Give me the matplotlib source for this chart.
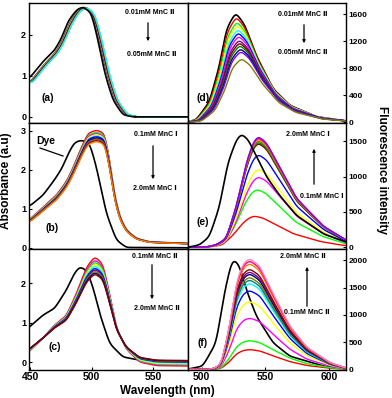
import numpy as np
import matplotlib
matplotlib.use('Agg')
import matplotlib.pyplot as plt

plt.rcParams['font.family'] = ['Liberation Sans', 'DejaVu Sans']
plt.rcParams['font.weight'] = 'bold'

# ---------------- Data ----------------
# Panel (a): absorbance, 0.01 -> 0.05 mM MnC II
wl_a_dye = [449.6, 460.4, 469.9, 475.4, 480.7, 487.6, 492.9, 499.8, 505.1, 510.6, 517.3, 525.4, 533.6, 578]
abs_a_dye = [0.95, 1.35, 1.63, 1.92, 2.33, 2.61, 2.69, 2.53, 1.88, 1.07, 0.41, 0.05, 0.0, 0.0]
wl_a_ti = [449.6, 460.4, 469.9, 475.4, 480.7, 487.6, 494.0, 500.5, 506.0, 511.8, 518.5, 527.0, 535.0, 578]
abs_a_ti = [0.84, 1.25, 1.55, 1.83, 2.22, 2.58, 2.69, 2.50, 1.88, 1.07, 0.41, 0.05, 0.0, 0.0]
peak_a = [2.70, 2.70, 2.69, 2.69, 2.69, 2.69, 2.68, 2.68, 2.68, 2.68, 2.68, 2.68]
shift_a = [0.2, 0.4, 0.6, 0.8, 1.0, 1.2, 1.4, 1.6, 1.8, 2.0, 2.2, 2.4]
colors_a = ['red', 'lime', 'blue', 'magenta', 'yellow', '#808000', '#000080',
            '#800080', '#800000', '#008000', '#FF8000', 'cyan']

# Panel (b): absorbance, 0.1 -> 2.0 mM MnC I
wl_b_dye = [449.6, 460.4, 469.9, 476.0, 481.5, 486.0, 491.6, 498.4, 503.8, 512.0, 520.1, 528.2, 578]
abs_b_dye = [1.07, 1.35, 1.75, 2.05, 2.45, 2.70, 2.76, 2.68, 2.08, 0.88, 0.20, 0.01, 0.0]
wl_b_ti = [449.6, 460.4, 471.3, 479.4, 484.8, 491.6, 497.0, 503.8, 510.6, 514.6, 518.7, 522.8, 528.2, 536.3, 547.0, 577.0]
abs_b_ti = [0.71, 1.01, 1.31, 1.65, 1.99, 2.50, 2.85, 2.93, 2.85, 2.20, 1.31, 0.79, 0.45, 0.24, 0.15, 0.11]
peak_b = [3.02, 2.97, 2.94, 2.91, 2.88, 2.86, 2.83, 2.81, 2.79, 2.76, 2.73]
colors_b = ['red', 'lime', 'magenta', 'yellow', 'cyan', 'blue', '#000080',
            '#800080', '#808000', '#800000', '#FF8000']

# Panel (c): absorbance, 0.1 -> 2.0 mM MnC II
wl_c_dye = [448.0, 460.4, 469.9, 479.4, 486.0, 490.2, 495.7, 501.0, 506.5, 514.6, 525.4, 539.0, 577.0]
abs_c_dye = [0.85, 1.19, 1.36, 1.82, 2.25, 2.41, 2.33, 1.91, 1.23, 0.47, 0.13, 0.05, 0.01]
wl_c_ti = [448.0, 460.4, 469.9, 479.4, 487.5, 495.7, 502.4, 509.2, 514.6, 520.0, 528.0, 539.0, 552.6, 577.0]
abs_c_ti = [0.30, 0.64, 0.94, 1.15, 1.65, 2.25, 2.50, 2.33, 1.65, 0.89, 0.39, 0.09, 0.01, 0.0]
peak_c = [2.67, 2.60, 2.55, 2.50, 2.45, 2.40, 2.36, 2.32, 2.28, 2.24]
base_c = [-0.10, -0.08, -0.06, -0.04, -0.02, 0.0, 0.01, 0.02, 0.03, 0.04]
colors_c = ['red', 'magenta', 'lime', 'yellow', 'cyan', 'blue', '#800080',
            '#808000', '#000080', '#800000']

# Panel (d): fluorescence, 0.01 -> 0.05 mM MnC II
wl_d_dye = [485.0, 495.7, 506.1, 514.0, 519.3, 526.6, 533.7, 542.9, 556.0, 569.0, 590.0, 613.0]
fl_d_dye = [0, 34, 303, 840, 1377, 1630, 1450, 986, 498, 253, 83, 20]
peak_d = [1570, 1500, 1450, 1390, 1340, 1290, 1230, 1190, 1150, 1100, 1060, 950]
shift_d = [0.5, 0.9, 1.3, 1.7, 2.0, 2.3, 2.7, 3.0, 3.3, 3.7, 4.0, 4.5]
colors_d = ['red', 'lime', 'yellow', 'cyan', 'blue', 'magenta', '#800080',
            '#800000', '#008000', '#000080', '#8000FF', '#808000']

# Panel (e): fluorescence, 0.1 -> 2.0 mM MnC I
wl_e_dye = [489.0, 498.3, 506.1, 514.0, 520.5, 527.2, 531.1, 536.3, 542.9, 550.8, 561.3, 574.4, 595.4, 613.8]
fl_e_dye = [0, 33, 150, 575, 1190, 1520, 1605, 1530, 1290, 1000, 730, 450, 190, 70]
wl_e_ti = [495.0, 505.0, 512.0, 519.3, 527.2, 535.0, 540.2, 544.2, 550.8, 561.3, 574.4, 595.4, 613.8]
fl_e_ti = [0.0, 0.005, 0.025, 0.08, 0.37, 0.76, 0.94, 1.0, 0.94, 0.72, 0.44, 0.19, 0.06]
peak_e = [443, 821, 1000, 1109, 1317, 1480, 1500, 1520, 1545, 1560, 1575]
shift_e = [-3.0, -1.0, 0, 0, 0, 0, 0, 0, 0, 0, 0]
colors_e = ['red', 'lime', 'magenta', 'yellow', 'blue', '#800000', '#008000',
            '#808000', '#FF8000', '#FF0080', '#8000FF']

# Panel (f): fluorescence, 0.1 -> 2.0 mM MnC II
wl_f_dye = [488.0, 500.9, 511.4, 517.9, 523.2, 525.8, 529.8, 535.0, 542.9, 556.0, 569.1, 595.4, 613.8]
fl_f_dye = [0, 61, 489, 1405, 1954, 2015, 1892, 1465, 976, 489, 244, 61, 12]
wl_f_ti = [495.0, 505.0, 510.0, 515.4, 521.9, 527.2, 532.4, 537.6, 545.5, 556.0, 569.1, 582.3, 600.7, 613.8]
fl_f_ti = [0.0, 0.0, 0.01, 0.05, 0.39, 0.78, 0.95, 1.0, 0.93, 0.68, 0.39, 0.20, 0.06, 0.01]
peak_f = [366, 531, 946, 1251, 1453, 1587, 1650, 1700, 1760, 1800, 1850, 1950, 2000, 2040]
colors_f = ['red', 'lime', 'magenta', 'yellow', 'blue', 'cyan', '#008080',
            '#808000', '#000080', '#800080', '#800000', '#FF8000', '#FF0080', '#FF80C0']

left_xticks = [450, 500, 550]
right_xticks = [500, 550, 600]


# ---------------- helpers ----------------
def smooth(wl, val, grid, sigma=1.6):
    y = np.interp(grid, wl, val)
    step = grid[1] - grid[0]
    n = int(3 * sigma / step)
    k = np.exp(-0.5 * (np.arange(-n, n + 1) * step / sigma) ** 2)
    k /= k.sum()
    yp = np.pad(y, n, mode='edge')
    return np.convolve(yp, k, mode='valid')


W, H = 392, 398


def px(x, y):
    return x / W, 1 - y / H


fig = plt.figure(figsize=(W / 100, H / 100), dpi=100)
gs = fig.add_gridspec(3, 2, left=29 / W, right=346 / W, top=1 - 3 / H, bottom=1 - 370 / H,
                      hspace=0, wspace=0, height_ratios=[120, 126, 121])
axs = [[fig.add_subplot(gs[r, c]) for c in range(2)] for r in range(3)]

gl = np.arange(440, 590, 0.25)
gr = np.arange(480, 620, 0.25)
lw_c = 1.0
lw_k = 1.2

# (a)
ax = axs[0][0]
for p, s, col in zip(peak_a, shift_a, colors_a):
    v = np.array(abs_a_ti) * p / max(abs_a_ti)
    ax.plot(gl, smooth(np.array(wl_a_ti) + s, v, gl), color=col, lw=lw_c)
ax.plot(gl, smooth(wl_a_dye, abs_a_dye, gl), color='black', lw=lw_k)
ax.set_ylim(-0.15, 2.78)
ax.set_yticks([0, 1, 2])

# (b)
ax = axs[1][0]
ax.plot(gl, smooth(wl_b_dye, abs_b_dye, gl), color='black', lw=lw_k)
for p, col in zip(peak_b, colors_b):
    v = np.array(abs_b_ti) * p / max(abs_b_ti)
    ax.plot(gl, smooth(wl_b_ti, v, gl), color=col, lw=lw_c)
ax.set_ylim(-0.03, 3.2)
ax.set_yticks([0, 1, 2, 3])

# (c)
ax = axs[2][0]
ax.plot(gl, smooth(wl_c_dye, abs_c_dye, gl), color='black', lw=lw_k)
for p, b, col in zip(peak_c, base_c, colors_c):
    v = np.array(abs_c_ti) * (p - b) / max(abs_c_ti) + b
    ax.plot(gl, smooth(wl_c_ti, v, gl), color=col, lw=lw_c)
ax.set_ylim(-0.2, 2.86)
ax.set_yticks([0, 1, 2])

# (d)
ax = axs[0][1]
ax.plot(gr, smooth(wl_d_dye, fl_d_dye, gr), color='black', lw=lw_k)
for p, s, col in zip(peak_d, shift_d, colors_d):
    v = np.array(fl_d_dye) * p / max(fl_d_dye)
    ax.plot(gr, smooth(np.array(wl_d_dye) + s, v, gr), color=col, lw=lw_c)
ax.set_ylim(-10, 1770)
ax.set_yticks([0, 400, 800, 1200, 1600])

# (e)
ax = axs[1][1]
for p, s, col in zip(peak_e, shift_e, colors_e):
    v = np.array(fl_e_ti) * p
    ax.plot(gr, smooth(np.array(wl_e_ti) + s, v, gr), color=col, lw=lw_c)
ax.plot(gr, smooth(wl_e_dye, fl_e_dye, gr), color='black', lw=lw_k)
ax.set_ylim(-24, 1760)
ax.set_yticks([0, 500, 1000, 1500])

# (f)
ax = axs[2][1]
ax.plot(gr, smooth(wl_f_dye, fl_f_dye, gr), color='black', lw=lw_k)
for p, col in zip(peak_f, colors_f):
    v = np.array(fl_f_ti) * p
    ax.plot(gr, smooth(wl_f_ti, v, gr), color=col, lw=lw_c)
ax.set_ylim(-10, 2210)
ax.set_yticks([0, 500, 1000, 1500, 2000])

for r in range(3):
    for c in range(2):
        ax = axs[r][c]
        for sp in ax.spines.values():
            sp.set_linewidth(1.0)
        ax.tick_params(direction='in', length=2, width=0.8, pad=2)
        if c == 0:
            ax.set_xlim(449, 578)
            ax.set_xticks(left_xticks)
            ax.tick_params(axis='y', labelsize=6.5)
        else:
            ax.set_xlim(489, 613)
            ax.set_xticks(right_xticks)
            ax.yaxis.tick_right()
            ax.tick_params(axis='y', labelsize=6, left=False, right=True)
        if r < 2:
            ax.tick_params(axis='x', bottom=False, labelbottom=False)
        else:
            ax.tick_params(axis='x', labelsize=7.5, pad=1.5)
        for lab in ax.get_xticklabels() + ax.get_yticklabels():
            lab.set_fontweight('bold')

# Panel letters
for lab, (x, y) in zip(['(a)', '(b)', '(c)', '(d)', '(e)', '(f)'],
                       [(48, 98), (52, 228), (55, 347), (203, 98), (203, 222), (203, 343)]):
    fig.text(*px(x, y), lab, fontsize=7.5, fontweight='bold', ha='center', va='center')

# Concentration annotations
ann_fs = 5


def conc(x, y, s):
    fig.text(*px(x, y), s, fontsize=ann_fs, fontweight='bold', ha='center', va='center')


def arrow(x, y0, y1):
    fig.add_artist(matplotlib.patches.FancyArrowPatch(
        px(x, y0), px(x, y1), transform=fig.transFigure, arrowstyle='-|>',
        mutation_scale=4, lw=0.9, color='black'))


conc(150, 13, '0.01mM MnC \u2161'); arrow(148, 20, 44); conc(152, 54, '0.05mM MnC \u2161')
conc(156, 135, '0.1mM MnC \u2160'); arrow(153, 143, 182); conc(155, 189, '2.0mM MnC \u2160')
conc(155, 256, '0.1mM MnC \u2161'); arrow(152, 262, 302); conc(157, 309, '2.0mM MnC \u2161')
conc(303, 15, '0.01mM MnC \u2161'); arrow(304, 22, 46); conc(303, 53, '0.05mM MnC \u2161')
conc(308, 135, '2.0mM MnC \u2160'); arrow(314, 187, 146); conc(322, 196, '0.1mM MnC \u2160')
conc(303, 257, '2.0mM MnC \u2161'); arrow(307, 309, 264); conc(307, 313, '0.1mM MnC \u2161')

# Dye pointer
fig.text(*px(46, 141), 'Dye', fontsize=7.5, fontweight='bold', ha='center', va='center')
fig.add_artist(matplotlib.lines.Line2D([px(40, 148)[0], px(63, 156)[0]],
                                       [px(40, 148)[1], px(63, 156)[1]],
                                       transform=fig.transFigure, color='black', lw=0.9))

fig.text(*px(6, 181), 'Absorbance (a.u)', rotation=90, fontsize=8.5, fontweight='bold',
         ha='center', va='center')
fig.text(*px(382, 170), 'Fluorescence intensity', rotation=270, fontsize=8.5,
         fontweight='bold', ha='center', va='center')
fig.text(*px(167, 391), 'Wavelength (nm)', fontsize=8.5, fontweight='bold',
         ha='center', va='center')

fig.savefig('out.png', dpi=100)
